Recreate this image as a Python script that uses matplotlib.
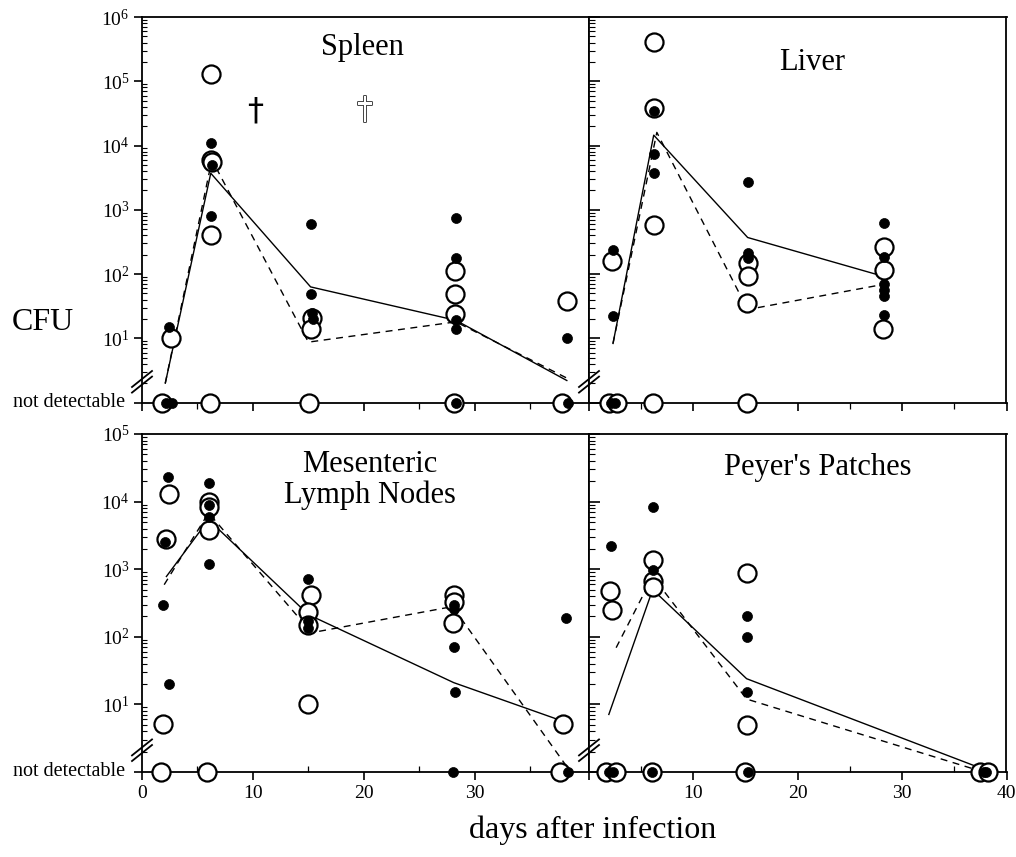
import numpy as np
import matplotlib
matplotlib.use("Agg")
import matplotlib.pyplot as plt
from matplotlib.transforms import ScaledTranslation
import matplotlib.patheffects as pe

plt.rcParams['font.family'] = ['Liberation Serif', 'DejaVu Serif']
plt.rcParams['mathtext.fontset'] = 'custom'
plt.rcParams['mathtext.rm'] = 'Liberation Serif'
plt.rcParams['mathtext.it'] = 'Liberation Serif:italic'

ND = 1  # "not detectable" plotted at 10^0

# ---------------- data ----------------
# Spleen
spl_f_day = [2.4, 2.2, 2.7, 6.2, 6.3, 6.2, 15.2, 15.2, 15.3, 15.4, 28.3, 28.3, 28.3, 28.3, 28.3, 38.3, 38.4]
spl_f_val = [15, ND, ND, 11000, 5000, 800, 600, 48, 25, 20, 750, 180, 19, 14, ND, 10, ND]
spl_o_day = [2.6, 1.8, 6.2, 6.2, 6.3, 6.2, 6.1, 15.3, 15.2, 15.1, 28.2, 28.2, 28.2, 28.1, 38.3, 37.9]
spl_o_val = [10, ND, 130000, 6000, 5500, 400, ND, 21, 14, ND, 110, 49, 24, ND, 38, ND]
spl_s_day = [2.1, 6.2, 15.2, 28.3, 38.3]
spl_s_val = [2.0, 3700, 63, 19, 2.2]
spl_d_day = [2.1, 6.3, 15.0, 28.3, 38.3]
spl_d_val = [2.0, 6000, 8.7, 18, 2.4]

# Liver
liv_f_day = [2.3, 2.3, 2.1, 2.5, 6.2, 6.2, 6.2, 15.2, 15.2, 15.2, 28.3, 28.3, 28.3, 28.3, 28.3, 28.3]
liv_f_val = [235, 22, ND, ND, 35000, 7400, 3700, 2700, 210, 176, 620, 186, 71, 56, 45, 23]
liv_o_day = [2.2, 1.9, 2.7, 6.2, 6.2, 6.2, 6.1, 15.2, 15.2, 15.1, 15.1, 28.3, 28.3, 28.2]
liv_o_val = [158, ND, ND, 410000, 38000, 575, ND, 148, 93, 36, ND, 260, 117, 14]
liv_s_day = [2.3, 6.2, 15.2, 27.8]
liv_s_val = [8.3, 14500, 370, 96]
liv_d_day = [2.3, 6.5, 15.2, 27.8]
liv_d_val = [8.3, 16000, 28, 67]

# Mesenteric lymph nodes
mln_f_day = [2.3, 2.1, 1.9, 2.4, 6.0, 6.0, 6.0, 6.0, 15.0, 15.0, 15.0, 28.1, 28.1, 28.1, 28.2, 28.0, 38.2, 38.4]
mln_f_val = [23000, 2500, 300, 20, 19000, 9000, 5900, 1200, 725, 170, 137, 300, 260, 70, 15, ND, 187, ND]
mln_o_day = [2.4, 2.2, 1.9, 1.7, 6.0, 6.0, 6.0, 5.9, 15.2, 15.0, 15.0, 15.0, 28.1, 28.1, 28.0, 38.0, 37.7]
mln_o_val = [13000, 2800, 5.2, ND, 10000, 8300, 3800, ND, 420, 230, 150, 10, 415, 330, 158, 5.2, ND]
mln_s_day = [2.2, 6.0, 15.0, 28.1, 38.0]
mln_s_val = [780, 5400, 213, 21, 5.6]
mln_d_day = [2.0, 6.0, 15.3, 28.0, 38.3]
mln_d_val = [590, 6800, 115, 280, 1.2]

# Peyer's patches
pp_f_day = [2.1, 1.9, 2.3, 6.1, 6.1, 6.0, 15.1, 15.1, 15.1, 15.2, 37.8, 38.0]
pp_f_val = [2200, ND, ND, 8300, 980, ND, 200, 100, 15, ND, ND, ND]
pp_o_day = [2.0, 2.2, 1.6, 2.6, 6.1, 6.1, 6.1, 6.0, 15.1, 15.1, 14.9, 37.5, 38.2]
pp_o_val = [470, 250, ND, ND, 1370, 660, 550, ND, 890, 5.0, ND, ND, ND]
pp_s_day = [1.9, 6.1, 15.1, 37.8]
pp_s_val = [7.1, 500, 24, 1.1]
pp_d_day = [2.6, 6.1, 15.1, 37.8]
pp_d_val = [69, 780, 12, 1.0]

titles = ["Spleen", "Liver", "Mesenteric\nLymph Nodes", "Peyer's Patches"]

# ---------------- figure ----------------
W, H = 1016, 857
fig = plt.figure(figsize=(W / 100, H / 100), dpi=100)

def frac(x0, y0, x1, y1):
    return [x0 / W, (H - y1) / H, (x1 - x0) / W, (y1 - y0) / H]

ax_tl = fig.add_axes(frac(142, 17, 589, 402.5))
ax_tr = fig.add_axes(frac(589, 17, 1006.5, 402.5))
ax_bl = fig.add_axes(frac(142, 434, 589, 772))
ax_br = fig.add_axes(frac(589, 434, 1006.5, 772))

panels = [
    (ax_tl, spl_f_day, spl_f_val, spl_o_day, spl_o_val, spl_s_day, spl_s_val, spl_d_day, spl_d_val),
    (ax_tr, liv_f_day, liv_f_val, liv_o_day, liv_o_val, liv_s_day, liv_s_val, liv_d_day, liv_d_val),
    (ax_bl, mln_f_day, mln_f_val, mln_o_day, mln_o_val, mln_s_day, mln_s_val, mln_d_day, mln_d_val),
    (ax_br, pp_f_day, pp_f_val, pp_o_day, pp_o_val, pp_s_day, pp_s_val, pp_d_day, pp_d_val),
]

title_pos = [(0.493, 0.922), (0.535, 0.881), (0.509, 0.864), (0.547, 0.902)]

for i, (ax, fd, fv, od, ov, sd, sv, dd, dv) in enumerate(panels):
    left = i in (0, 2)
    top = i in (0, 1)
    ax.set_yscale('log')
    ax.set_ylim(1, 1e6 if top else 1e5)
    ax.set_xlim(0, 40.3 if left else 40)
    for sp in ax.spines.values():
        sp.set_linewidth(1.3)

    ax.plot(sd, sv, color='black', lw=1.0, zorder=2)
    ax.plot(dd, dv, color='black', lw=1.0, ls=(0, (5, 4)), zorder=2)
    ax.plot(od, ov, ls='none', marker='o', ms=13, mfc='white', mec='black',
            mew=1.6, clip_on=False, zorder=4)
    ax.plot(fd, fv, ls='none', marker='o', ms=7.2, mfc='black', mec='black',
            mew=0.5, clip_on=False, zorder=5)

    tx, ty = title_pos[i]
    ax.text(tx, ty, titles[i], transform=ax.transAxes, ha='center', va='center',
            fontsize=22, linespacing=1.1)

    # y ticks
    top_exp = 6 if top else 5
    ax.set_yticks([10.0 ** k for k in range(0, top_exp + 1)])
    if left:
        ax.set_yticklabels([''] + [r'$10^{%d}$' % k for k in range(1, top_exp + 1)])
        ax.tick_params(axis='y', which='major', direction='out', length=6, width=1.2,
                       labelsize=14, pad=3)
        ax.tick_params(axis='y', which='minor', direction='in', length=3.5, width=0.8)
        ax.text(-0.038, 1, 'not detectable', transform=ax.get_yaxis_transform(),
                ha='right', va='center', fontsize=14.5)
    else:
        ax.set_yticklabels([])
        ax.tick_params(axis='y', which='major', direction='in', length=8, width=1.2)
        ax.tick_params(axis='y', which='minor', direction='in', length=4, width=0.8)

    # x ticks
    if left:
        ax.set_xticks([0, 10, 20, 30])
        ax.set_xticks([5, 15, 25, 35], minor=True)
    else:
        ax.set_xticks([0, 10, 20, 30, 40])
        ax.set_xticks([5, 15, 25, 35], minor=True)
    ax.tick_params(axis='x', which='major', direction='out', length=6, width=1.2,
                   labelsize=14, pad=3)
    ax.tick_params(axis='x', which='minor', direction='out' if top else 'in',
                   length=4, width=0.9)
    if top:
        ax.set_xticklabels([])
    elif not left:
        ax.set_xticklabels(['', '10', '20', '30', '40'])

    # axis break marks
    anchor = ScaledTranslation(0, 2.1, ax.get_yaxis_transform())
    tr = fig.dpi_scale_trans + anchor
    for off in (-0.028, 0.028):
        ax.plot([-0.10, 0.10], [-0.08 + off, 0.08 + off], color='black', lw=1.3,
                transform=tr, clip_on=False, zorder=6)

# death symbols in spleen panel
ax_tl.text(10.2, 3.5e4, '\u2020', ha='center', va='center', fontsize=23,
           family='DejaVu Sans', color='black')
ax_tl.text(20.1, 3.5e4, '\u2020', ha='center', va='center', fontsize=23,
           family='DejaVu Sans', color='white',
           path_effects=[pe.withStroke(linewidth=1.4, foreground='#444444')])

fig.text(43 / W, 1 - 322 / H, 'CFU', ha='center', va='center', fontsize=23)
fig.text(593 / W, 1 - 830 / H, 'days after infection', ha='center', va='center', fontsize=23)

fig.savefig('out.png', dpi=100)
